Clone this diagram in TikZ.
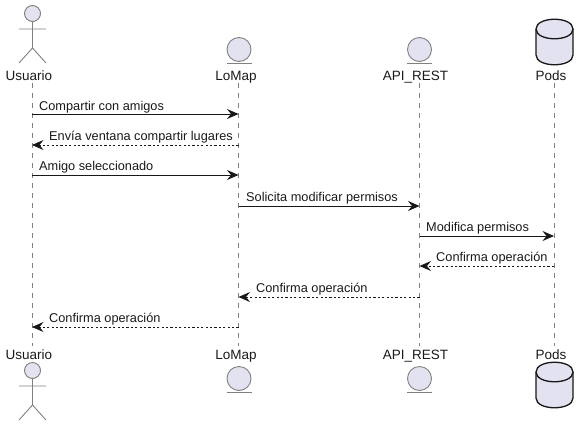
\documentclass[tikz,border=0pt]{standalone}
\usepackage{fontspec}
\setmainfont{Liberation Sans}
\usetikzlibrary{arrows.meta,positioning}
\definecolor{partfill}{HTML}{E2E2F0}
\definecolor{partline}{HTML}{181818}
\tikzstyle{partlabel} = [inner sep=0, text height=11pt, text depth=3pt,
    font=\fontsize{13.5}{16}\selectfont, text=black!90]
\tikzstyle{msglabel} = [inner sep=0, anchor=base west,
    font=\fontsize{12.75}{15}\selectfont, text=black!90]
\tikzstyle{lifeline} = [draw=black!50, dash pattern=on 5pt off 5pt, line width=0.8pt]
\tikzstyle{msg} = [draw=partline, line width=0.9pt,
    -{Stealth[length=11.5pt,width=10pt,inset=4pt]}]
\tikzstyle{reply} = [msg, dash pattern=on 2.2pt off 2.2pt]
\tikzstyle{partshape} = [draw=black!50, fill=partfill, line width=0.9pt]
\tikzstyle{dbshape} = [draw=partline, fill=partfill, line width=1.3pt]

\begin{document}
\begin{tikzpicture}[x=1pt,y=1pt]
\useasboundingbox (0,0) rectangle (588,-426);
% names on top and bottom
\node [partlabel] (userTop) at (29,-76) {Usuario};
\node [partlabel] (lomapTop) at (236,-76) {LoMap};
\node [partlabel] (apiTop) at (415.5,-76) {API\_REST};
\node [partlabel] (podsTop) at (551,-76) {Pods};
\node [partlabel] (userBot) at (29,-355) {Usuario};
\node [partlabel] (lomapBot) at (236,-355) {LoMap};
\node [partlabel] (apiBot) at (415.5,-355) {API\_REST};
\node [partlabel] (podsBot) at (551,-355) {Pods};
% lifelines
\foreach \p/\x in {user/32,lomap/238.5,api/419.5,pods/554} {
    \coordinate (\p A) at (\x,-83);
    \coordinate (\p B) at (\x,-346);
    \draw [lifeline] (\p A) -- (\p B);
}
% actor
\foreach \y in {0,-357} {
    \draw [partshape] (32.5,-13.5+\y) circle (8);
    \draw [draw=black!50, line width=0.9pt] (32.5,-21.5+\y) -- (32.5,-48+\y)
        (19,-29+\y) -- (46,-29+\y)
        (19,-63+\y) -- (32.5,-48+\y) -- (46,-63+\y);
}
% entities
\foreach \x in {239,419.5}
    \foreach \y in {0,-329} {
        \draw [partshape] (\x,-49.5+\y) circle (12);
        \draw [draw=black!50, line width=0.9pt] (\x-12.5,-63+\y) -- (\x+12.5,-63+\y);
    }
% database
\foreach \y in {0,-343} {
    \draw [dbshape] (536,-29+\y) .. controls (536,-16+\y) and (573,-16+\y) .. (573,-29+\y)
        -- (573,-55+\y) .. controls (573,-68+\y) and (536,-68+\y) .. (536,-55+\y) -- cycle;
    \draw [dbshape, fill=none] (536,-29+\y) .. controls (536,-42+\y) and (573,-42+\y) .. (573,-29+\y);
}
% points on the lifelines
\foreach \i/\y in {1/114,2/145,3/175,4/206,5/236,6/266,7/297,8/327} {
    \coordinate (u\i) at (32,-\y);
    \coordinate (l\i) at (238.5,-\y);
    \coordinate (a\i) at (419.5,-\y);
    \coordinate (p\i) at (554,-\y);
}
% messages
\draw [msg] (u1) -- (l1);
\node [msglabel] (m1) at ([xshift=7pt,yshift=4pt]u1) {Compartir con amigos};
\draw [reply] (l2) -- (u2);
\node [msglabel] (m2) at ([xshift=17pt,yshift=4.5pt]u2) {Envía ventana compartir lugares};
\draw [msg] (u3) -- (l3);
\node [msglabel] (m3) at ([xshift=7pt,yshift=4.5pt]u3) {Amigo seleccionado};
\draw [msg] (l4) -- (a4);
\node [msglabel] (m4) at ([xshift=7.5pt,yshift=5pt]l4) {Solicita modificar permisos};
\draw [msg] (a5) -- (p5);
\node [msglabel] (m5) at ([xshift=6.5pt,yshift=4.5pt]a5) {Modifica permisos};
\draw [reply] (p6) -- (a6);
\node [msglabel] (m6) at ([xshift=16.5pt,yshift=4.5pt]a6) {Confirma operación};
\draw [reply] (a7) -- (l7);
\node [msglabel] (m7) at ([xshift=17.5pt,yshift=5pt]l7) {Confirma operación};
\draw [reply] (l8) -- (u8);
\node [msglabel] (m8) at ([xshift=17pt,yshift=4.5pt]u8) {Confirma operación};
\end{tikzpicture}
\end{document}
